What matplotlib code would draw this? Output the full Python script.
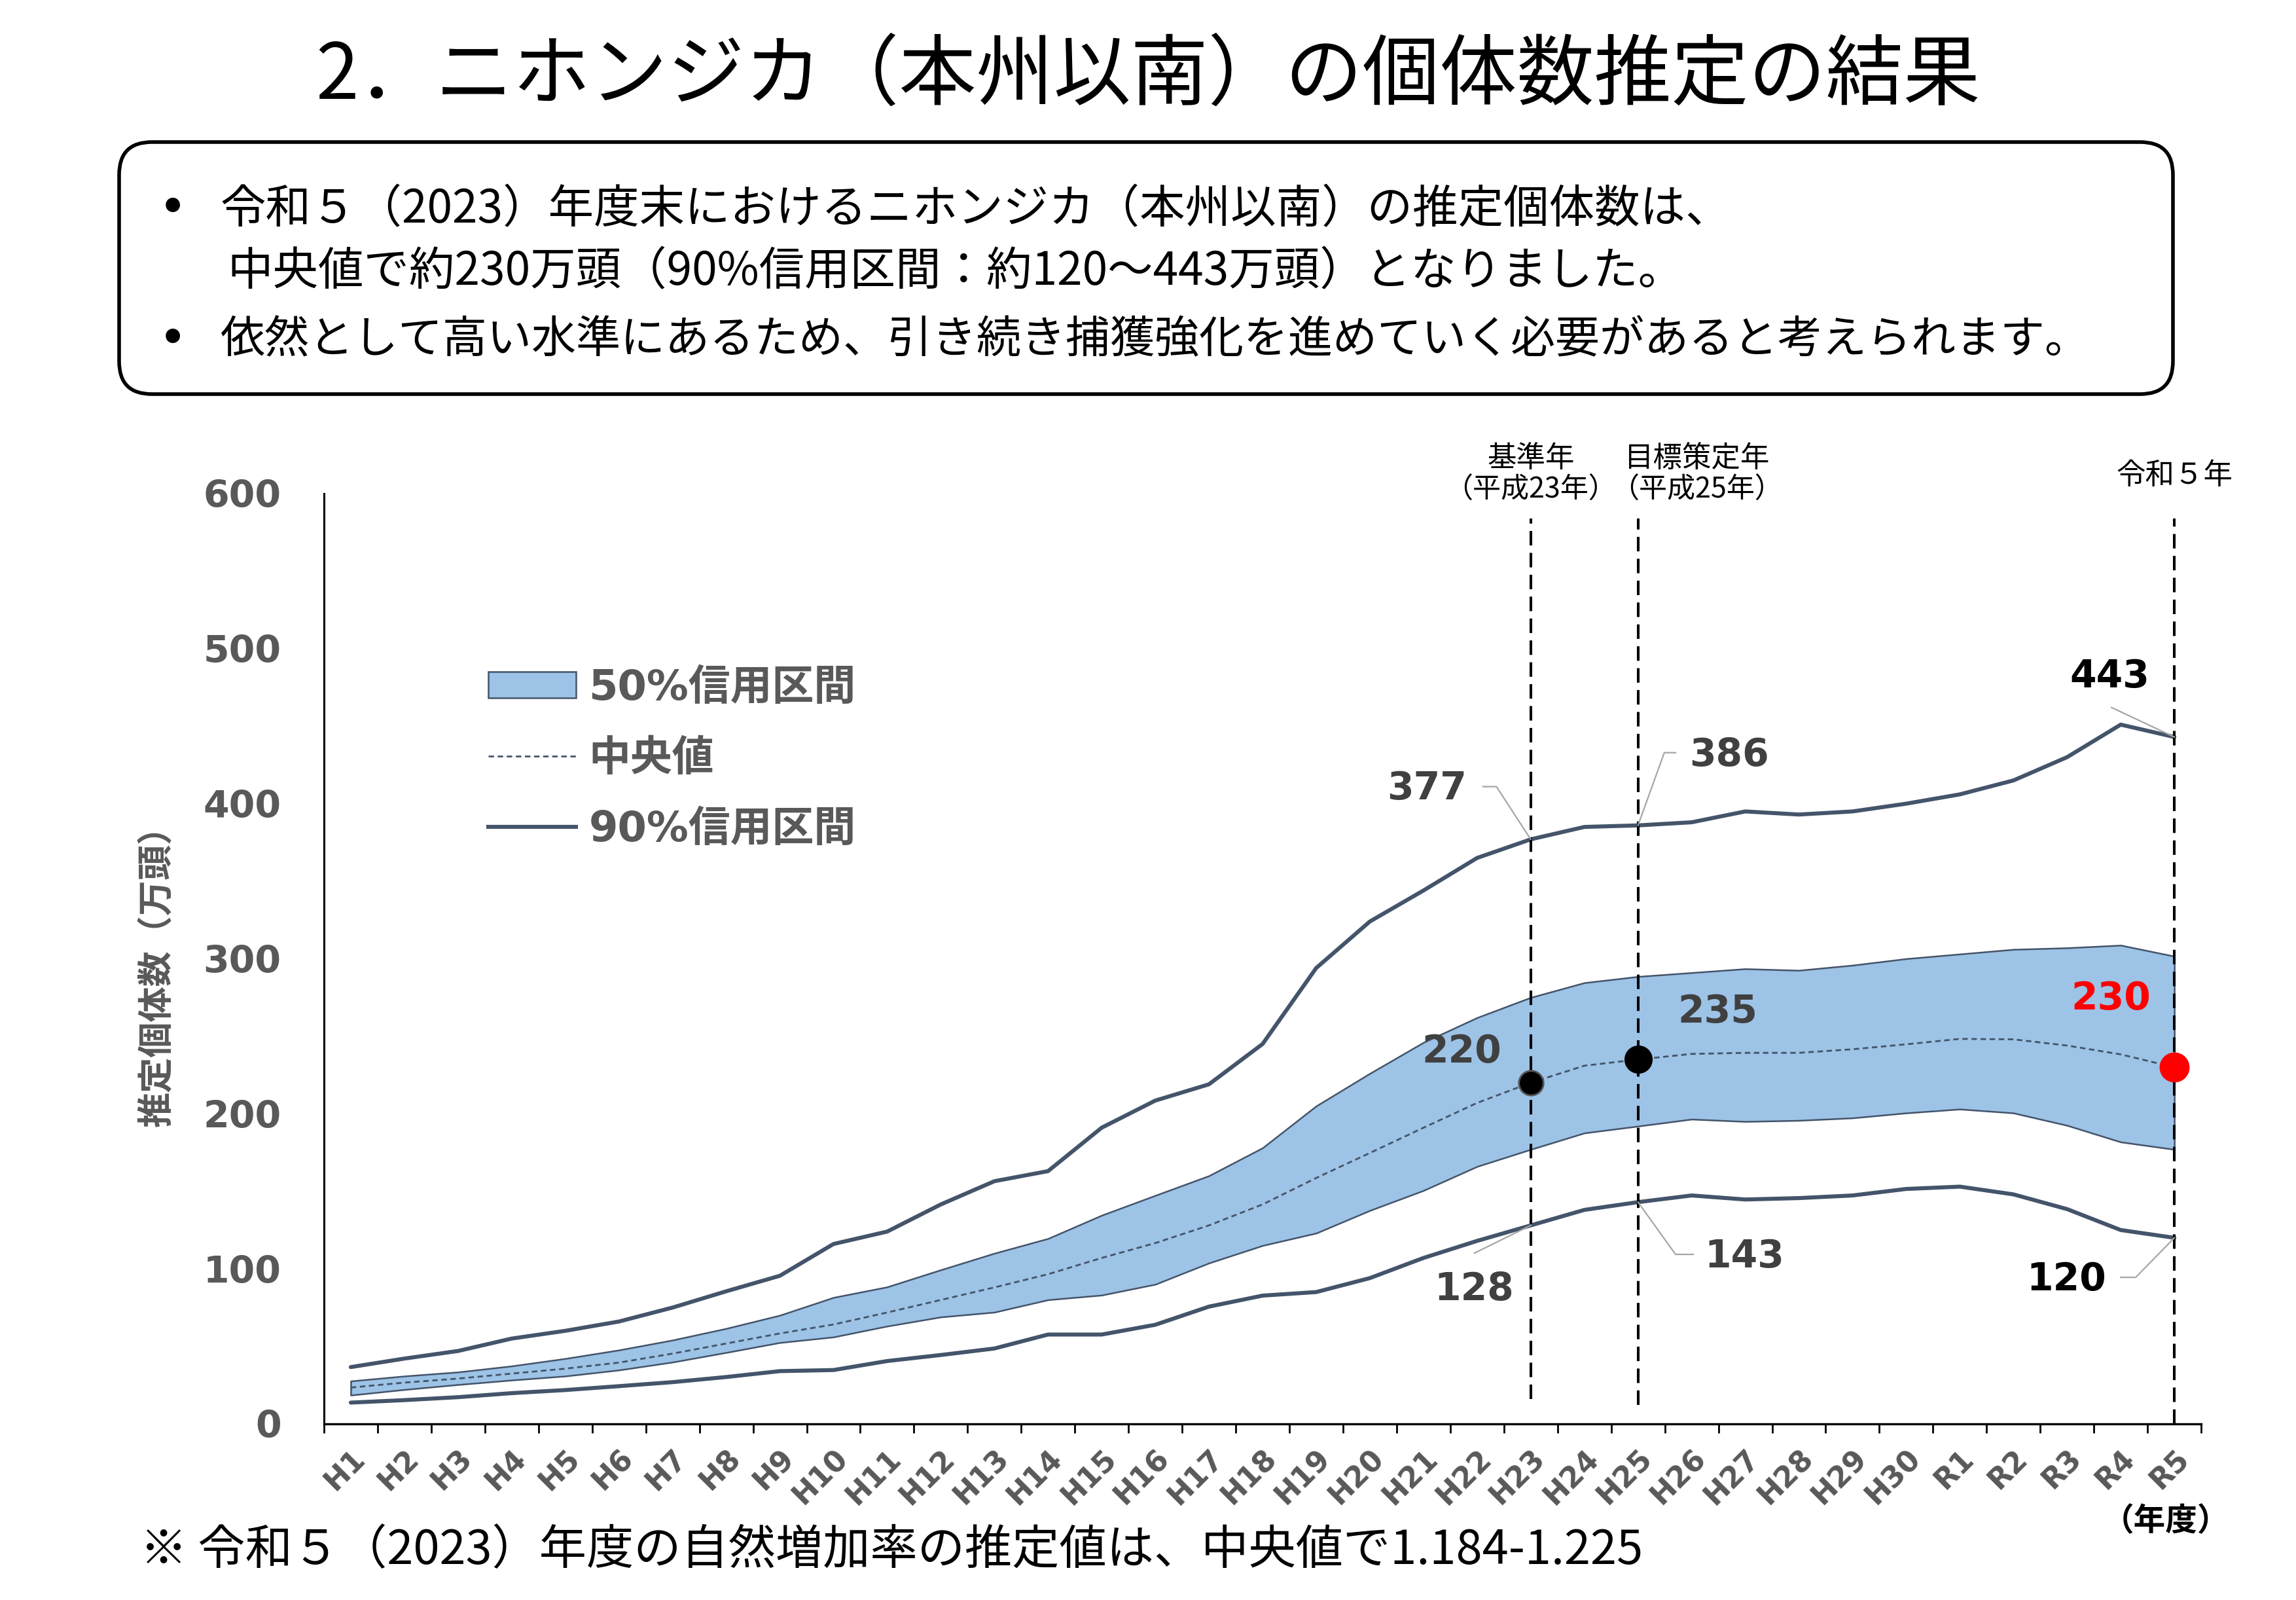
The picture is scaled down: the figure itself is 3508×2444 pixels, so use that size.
import numpy as np
import matplotlib
matplotlib.use("Agg")
import matplotlib.pyplot as plt
from matplotlib.patches import FancyBboxPatch, Patch
from matplotlib.lines import Line2D
from matplotlib.font_manager import FontProperties

plt.rcParams['font.family'] = ['Noto Sans CJK JP', 'DejaVu Sans']

# 年度 (H1..H30, R1..R5)
years = ['H1', 'H2', 'H3', 'H4', 'H5', 'H6', 'H7', 'H8', 'H9', 'H10',
         'H11', 'H12', 'H13', 'H14', 'H15', 'H16', 'H17', 'H18', 'H19', 'H20',
         'H21', 'H22', 'H23', 'H24', 'H25', 'H26', 'H27', 'H28', 'H29', 'H30',
         'R1', 'R2', 'R3', 'R4', 'R5']

# 推定個体数 (万頭)
upper90 = [36.6, 42.1, 47, 55, 60, 66, 75, 85.5, 95.5, 116,
           124, 141.5, 156.5, 163, 191, 208.5, 219, 245, 294, 324,
           344, 365, 377, 385, 386, 388, 395, 393, 395, 400,
           406, 415, 430, 451, 443]
upper50 = [27.6, 30.8, 33.4, 37.3, 42.1, 47.6, 54, 61.5, 70, 81.5,
           88.3, 99.3, 110, 119.5, 134.5, 147.3, 160, 178, 205, 226,
           246, 262, 275, 284.5, 288.5, 291, 293.5, 292.5, 295.8, 300,
           303, 306, 307, 308.7, 301.6]
median = [23.4, 26.6, 29.2, 32.4, 35.6, 39.5, 45.3, 51.8, 58.3, 64.1,
          71.8, 79.9, 88, 96.5, 107, 116.6, 128, 141.5, 158.6, 174.7,
          191, 207, 220, 231, 235, 238.6, 239.3, 239.3, 241.6, 244.8,
          248.3, 248, 244, 238.3, 230]
lower50 = [18.5, 22.1, 25.3, 28.2, 30.8, 34.7, 39.8, 46, 52.4, 56,
           63, 68.9, 72, 80, 83, 90, 103.7, 115, 123, 137.6,
           150.5, 166, 177, 187.6, 192, 196.5, 195, 195.7, 197.3, 200.5,
           203, 200.5, 192.5, 181.8, 177]
lower90 = [13.7, 15.3, 17.2, 19.8, 21.8, 24.3, 26.9, 30.2, 34, 34.7,
           40.5, 44.4, 48.6, 57.6, 57.6, 63.9, 75.6, 82.7, 85, 94,
           107, 118, 128, 138, 143, 147.3, 144.7, 145.6, 147.3, 151.5,
           153, 148, 138.5, 125, 120]

yticks = [0, 100, 200, 300, 400, 500, 600]

title = '2．ニホンジカ（本州以南）の個体数推定の結果'
bullets = ['令和５（2023）年度末におけるニホンジカ（本州以南）の推定個体数は、',
           '中央値で約230万頭（90%信用区間：約120～443万頭）となりました。',
           '依然として高い水準にあるため、引き続き捕獲強化を進めていく必要があると考えられます。']
footnote = '※ 令和５（2023）年度の自然増加率の推定値は、中央値で1.184-1.225'

LINE = '#44546A'
FILL = '#9DC3E6'
GRAY = '#595959'
DARK = '#404040'
LATIN = ['DejaVu Sans', 'Noto Sans CJK JP']

fig = plt.figure(figsize=(35.08, 24.44), dpi=100)

# title and summary box
fig.text(0.5, 0.952, title, ha='center', va='center', fontsize=85, color='black')
box = FancyBboxPatch((1.82, 18.42), 31.38, 3.85, boxstyle='round,pad=0,rounding_size=0.5',
                     transform=fig.dpi_scale_trans, facecolor='white', edgecolor='black', lw=4)
fig.patches.append(box)
fig.text(0.069, 0.869, '•', ha='left', va='center', fontsize=54, family=LATIN)
fig.text(0.096, 0.869, bullets[0], ha='left', va='center', fontsize=50)
fig.text(0.099, 0.830, bullets[1], ha='left', va='center', fontsize=50)
fig.text(0.069, 0.787, '•', ha='left', va='center', fontsize=54, family=LATIN)
fig.text(0.096, 0.787, bullets[2], ha='left', va='center', fontsize=49)
fig.text(0.061, 0.031, footnote, ha='left', va='center', fontsize=52)

ax = fig.add_axes([0.1411, 0.1101, 0.8176, 0.5814])
x = np.arange(len(years))

ax.fill_between(x, lower50, upper50, facecolor=FILL, edgecolor=LINE, lw=1.8, zorder=2)
ax.plot(x, median, color=LINE, lw=2, ls=(0, (3, 2)), zorder=3)
ax.plot(x, upper90, color=LINE, lw=4.4, zorder=3, solid_capstyle='round')
ax.plot(x, lower90, color=LINE, lw=4.4, zorder=3, solid_capstyle='round')

i23 = years.index('H23')
i25 = years.index('H25')
i5 = years.index('R5')

# reference year lines
for i, bottom in [(i23, 16), (i25, 12), (i5, 0)]:
    ax.plot([x[i], x[i]], [bottom, 584], color='black', lw=2.9, ls=(0, (5.5, 2.8)),
            zorder=4, clip_on=False)

ax.plot(x[i23], median[i23], 'o', ms=27, color='black', mec='#555555', mew=2, zorder=6)
ax.plot(x[i25], median[i25], 'o', ms=30, color='black', zorder=6)
ax.plot(x[i5], median[i5], 'o', ms=32, color='#FF0000', zorder=6)

ax.text(x[i23], 623, '基準年', ha='center', va='center', fontsize=32, clip_on=False)
ax.text(x[i23], 602, '（平成23年）', ha='center', va='center', fontsize=31, clip_on=False)
ax.text(x[i25] + 1.1, 623, '目標策定年', ha='center', va='center', fontsize=32, clip_on=False)
ax.text(x[i25] + 1.1, 602, '（平成25年）', ha='center', va='center', fontsize=31, clip_on=False)
ax.text(x[i5], 612, '令和５年', ha='center', va='center', fontsize=32, clip_on=False)

# data labels: (series, index, text offset, leader path offsets, colour)
labels = [
    (upper90, i23, (-1.94, 32.7), [(-0.89, 34), (-0.64, 34), (0, 0)], DARK),
    (upper90, i25, (1.70, 45.2), [(0.70, 46.9), (0.49, 46.9), (0, 0)], DARK),
    (median, i23, (-1.29, 20.1), None, DARK),
    (median, i25, (1.49, 30.8), None, DARK),
    (lower90, i23, (-1.05, -41.1), [(-1.05, -17.9), (0, 0)], DARK),
    (lower90, i25, (1.98, -35.0), [(1.03, -33.7), (0.70, -33.7), (0, 0)], DARK),
    (upper90, i5, (-1.20, 38.9), [(-1.17, 19), (0, 0)], 'black'),
    (median, i5, (-1.18, 44.3), None, '#FF0000'),
    (lower90, i5, (-2.01, -26.8), [(-1.0, -25.5), (-0.72, -25.5), (0, 0)], 'black'),
]
for series, i, (dx, dy), path, col in labels:
    px, py = x[i], series[i]
    ax.text(px + dx, py + dy, f'{series[i]:.0f}', ha='center', va='center', fontsize=42,
            fontweight='bold', color=col, family=LATIN, zorder=7)
    if path:
        ax.plot([px + a for a, b in path], [py + b for a, b in path], color='#A6A6A6',
                lw=1.6, zorder=5, clip_on=False)

ax.set_xlim(-0.5, len(years) - 0.5)
ax.set_ylim(0, 600)

ax.set_xticks(np.arange(len(years) + 1) - 0.5)
ax.set_xticklabels([])
ax.tick_params(axis='x', which='major', length=10, width=2, color='black')
ax.set_xticks(x, minor=True)
ax.set_xticklabels(years, minor=True, rotation=45, ha='right', va='top',
                   rotation_mode='anchor', fontsize=32, fontweight='bold', color=GRAY,
                   family=LATIN)
ax.tick_params(axis='x', which='minor', length=0, pad=22)

ax.set_yticks(yticks)
ax.set_yticklabels([str(v) for v in yticks], fontsize=41, fontweight='bold', color=GRAY,
                   family=LATIN)
ax.tick_params(axis='y', length=0, pad=47)

for s in ['top', 'right']:
    ax.spines[s].set_visible(False)
ax.spines['left'].set_linewidth(2.2)
ax.spines['bottom'].set_linewidth(2.4)

ax.set_ylabel('推定個体数（万頭）', fontsize=39, fontweight='bold', color=GRAY)
ax.yaxis.set_label_coords(-0.079, 0.491)

ax.text(1.015, -0.105, '（年度）', transform=ax.transAxes, ha='right', va='center',
        fontsize=35, fontweight='bold', color='black')

handles = [Patch(facecolor=FILL, edgecolor=LINE, lw=1.8),
           Line2D([], [], color=LINE, lw=2, ls=(0, (3, 2))),
           Line2D([], [], color=LINE, lw=4.4)]
leg = ax.legend(handles, ['50%信用区間', '中央値', '90%信用区間'], loc='upper left',
                bbox_to_anchor=(0.0875, 0.813), frameon=False, borderpad=0, borderaxespad=0,
                handlelength=2.1, handleheight=0.6, handletextpad=0.3, labelspacing=0.72,
                prop=FontProperties(family=LATIN, weight='bold', size=46))
for t in leg.get_texts():
    t.set_color(GRAY)

fig.savefig('out.png', dpi=100)
